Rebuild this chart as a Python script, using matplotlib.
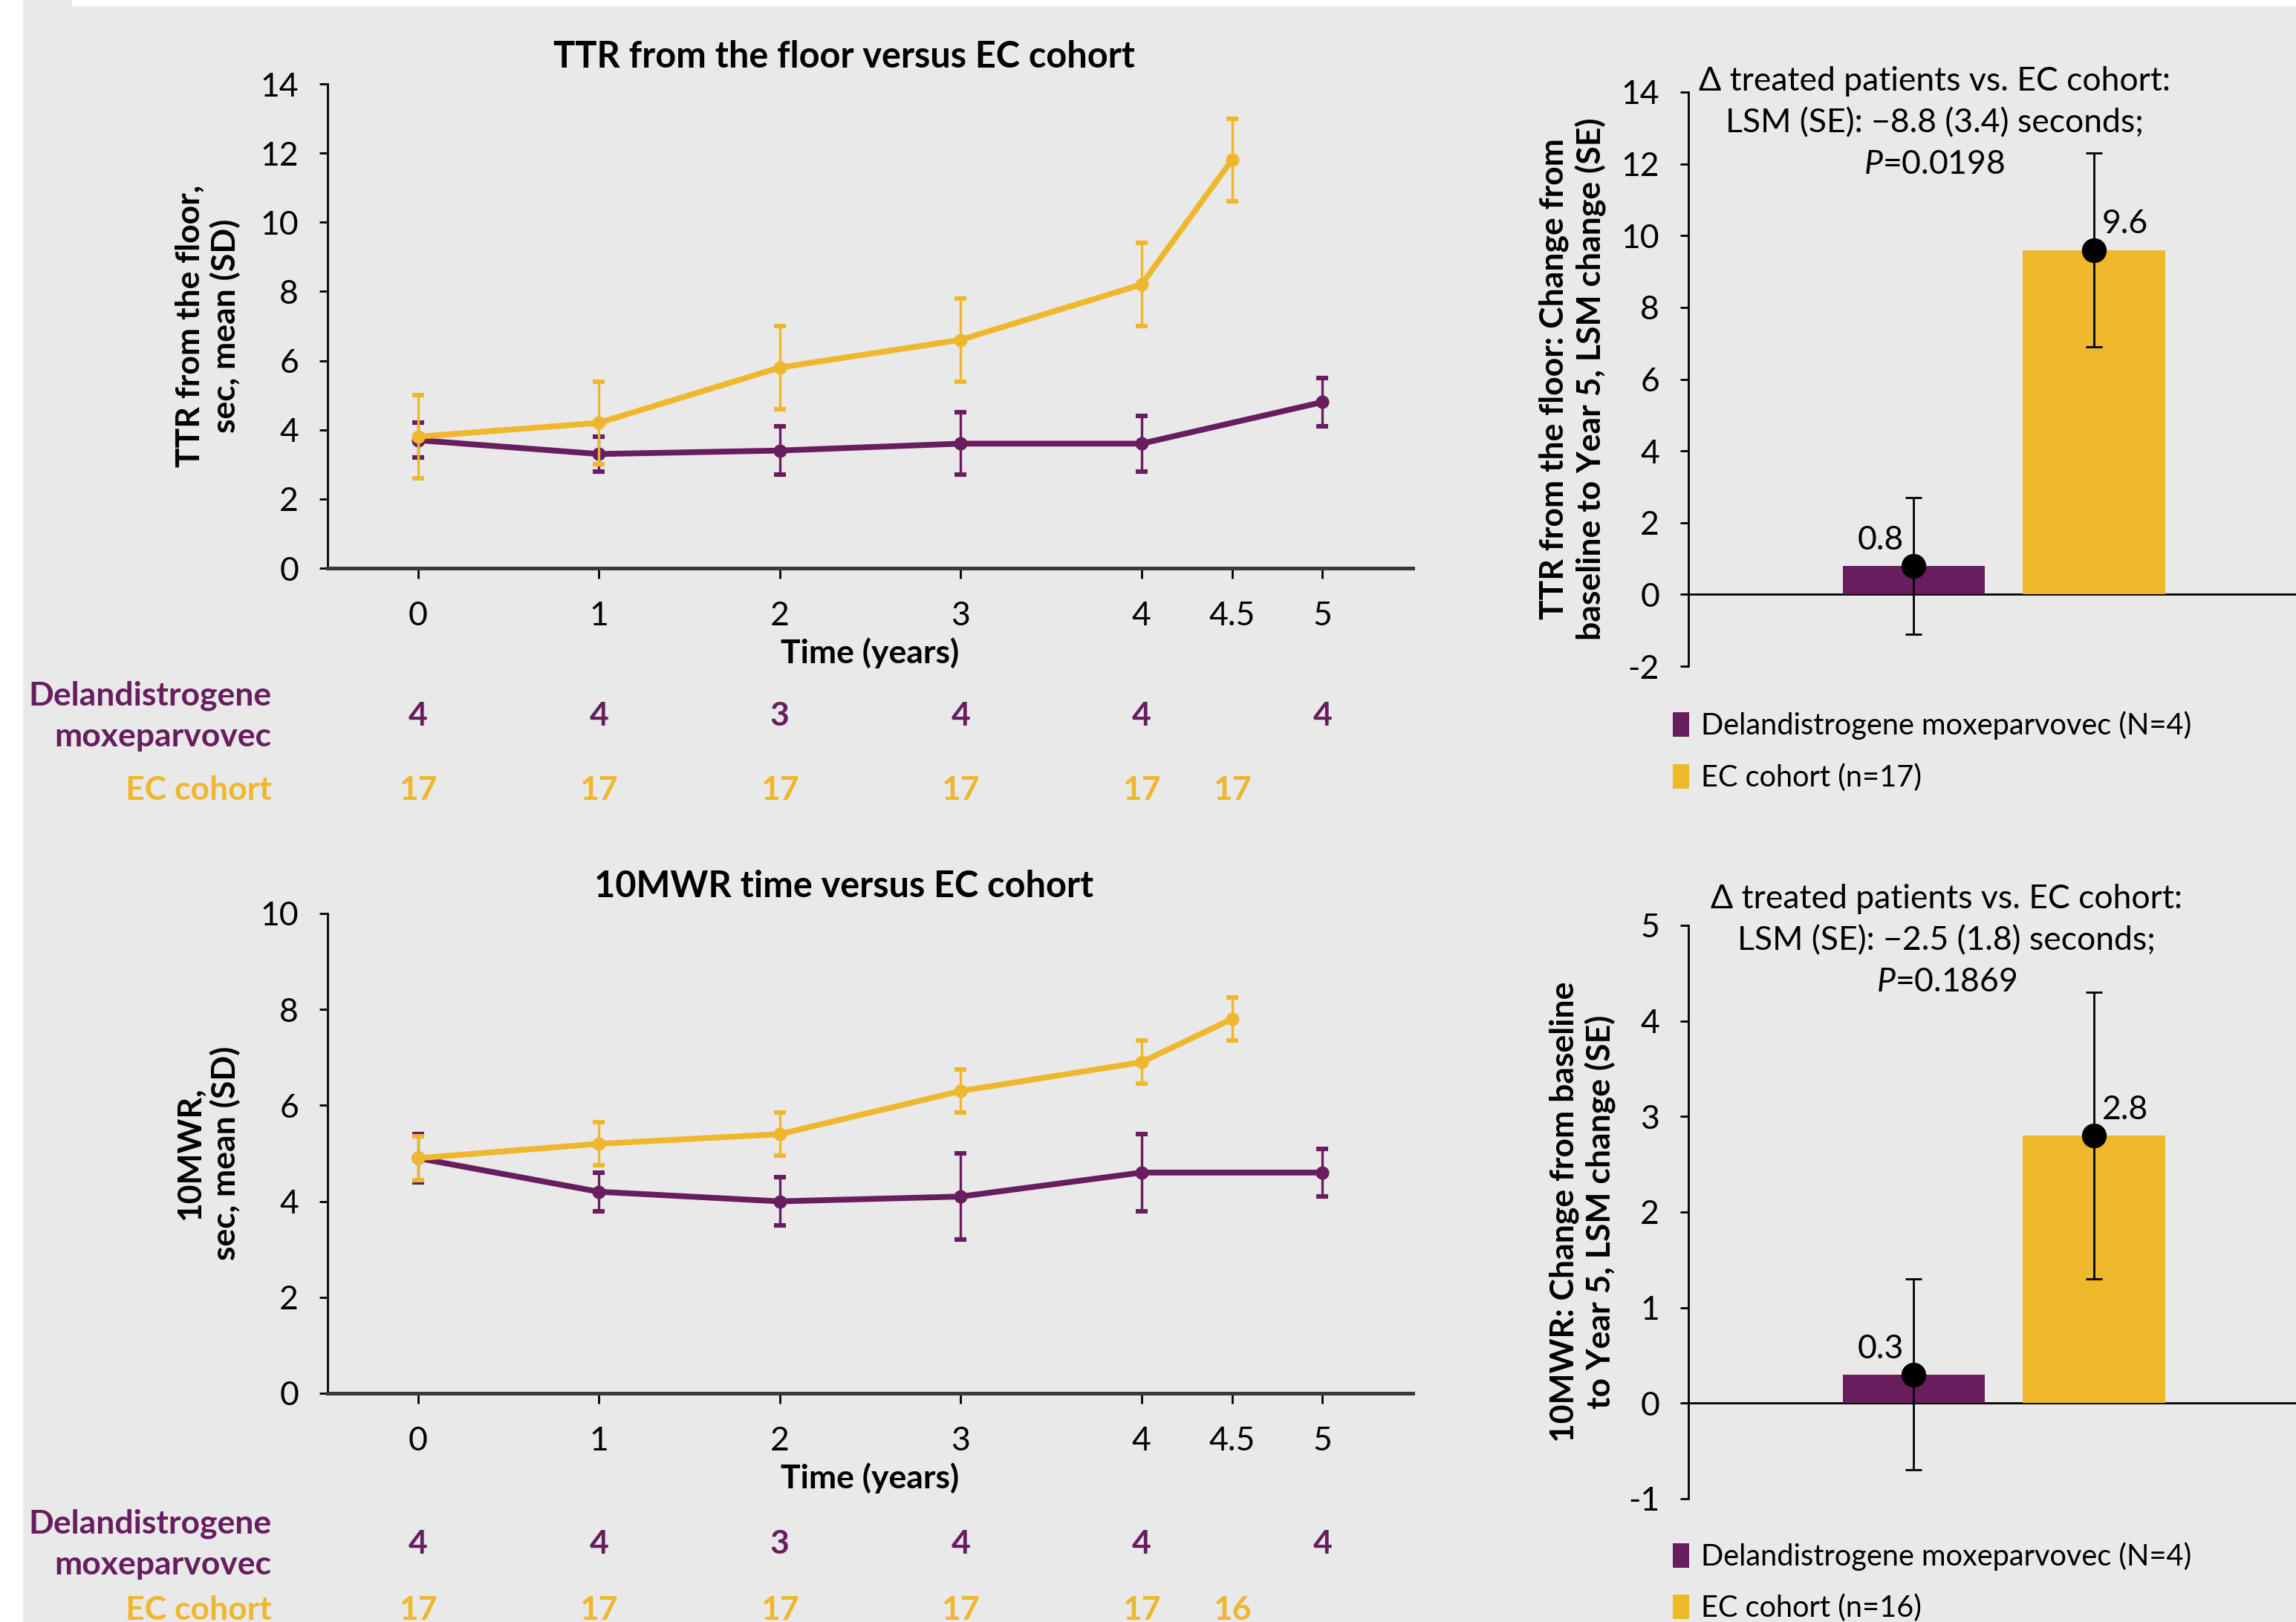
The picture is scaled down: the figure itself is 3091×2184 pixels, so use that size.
import matplotlib
matplotlib.use("Agg")
import matplotlib.pyplot as plt
from matplotlib.patches import Rectangle

plt.rcParams['font.family'] = ['Lato', 'DejaVu Sans']
plt.rcParams['mathtext.fontset'] = 'custom'
plt.rcParams['mathtext.rm'] = 'Lato'
plt.rcParams['mathtext.it'] = 'Lato:italic'
plt.rcParams['axes.unicode_minus'] = False

PURPLE = '#681D5F'
GOLD = '#EFB72C'
BG = '#E9E9E9'
FS = 16

# time points
time_ticks = [0, 1, 2, 3, 4, 4.5, 5]
time_labels = ['0', '1', '2', '3', '4', '4.5', '5']
tx_years = [0, 1, 2, 3, 4, 5]
ec_years = [0, 1, 2, 3, 4, 4.5]

# TTR (top)
ttr_tx = [3.7, 3.3, 3.4, 3.6, 3.6, 4.8]
ttr_tx_sd = [0.5, 0.5, 0.7, 0.9, 0.8, 0.7]
ttr_ec = [3.8, 4.2, 5.8, 6.6, 8.2, 11.8]
ttr_ec_sd = [1.2, 1.2, 1.2, 1.2, 1.2, 1.2]
ttr_n_tx = ['4', '4', '3', '4', '4', '4']
ttr_n_ec = ['17', '17', '17', '17', '17', '17']

# 10MWR (bottom)
mwr_tx = [4.9, 4.2, 4.0, 4.1, 4.6, 4.6]
mwr_tx_sd = [0.5, 0.4, 0.5, 0.9, 0.8, 0.5]
mwr_ec = [4.9, 5.2, 5.4, 6.3, 6.9, 7.8]
mwr_ec_sd = [0.45, 0.45, 0.45, 0.45, 0.45, 0.45]
mwr_n_tx = ['4', '4', '3', '4', '4', '4']
mwr_n_ec = ['17', '17', '17', '17', '17', '16']

# LSM change bars
groups = [0, 1]
ttr_lsm = [0.8, 9.6]
ttr_lsm_se = [1.9, 2.7]
mwr_lsm = [0.3, 2.8]
mwr_lsm_se = [1.0, 1.5]

W, H = 3091, 2184
fig = plt.figure(figsize=(W / 200, H / 200), dpi=200, facecolor=BG)
fig.patches.append(Rectangle((0, 0), 29 / W, 1, transform=fig.transFigure,
                             color='white', zorder=0))
fig.patches.append(Rectangle((98 / W, 1 - 7 / H), 1, 7 / H, transform=fig.transFigure,
                             color='white', zorder=0))


def fx(px):
    return px / W


def fy(py):
    return 1 - py / H


def line_panel(rect, title, ylab, ymax, tx, tx_sd, ec, ec_sd, n_tx, n_ec, ny_tx, ny_ec):
    ax = fig.add_axes(rect)
    ax.set_facecolor(BG)
    ax.errorbar(tx_years, tx, yerr=tx_sd, color=PURPLE, lw=2.8, marker='o', ms=5.5,
                elinewidth=1.2, capsize=3, capthick=2.2, zorder=3)
    ax.errorbar(ec_years, ec, yerr=ec_sd, color=GOLD, lw=2.8, marker='o', ms=5.5,
                elinewidth=1.2, capsize=3, capthick=2.2, zorder=4)
    ax.set_xlim(-0.5, 5.5)
    ax.set_ylim(0, ymax)
    ax.set_yticks(range(0, ymax + 1, 2))
    ax.set_xticks(time_ticks)
    ax.set_xticklabels(time_labels)
    for s in ['top', 'right']:
        ax.spines[s].set_visible(False)
    ax.spines['left'].set_linewidth(1.0)
    ax.spines['bottom'].set_linewidth(1.8)
    ax.spines['bottom'].set_color('#3A3A3A')
    ax.tick_params(axis='x', length=5, width=1, pad=11, labelsize=FS)
    ax.tick_params(axis='y', length=4, width=1, pad=10, labelsize=FS)
    ax.set_title(title, fontsize=FS + 1.5, fontweight='bold', pad=8, x=0.476)
    ax.set_xlabel('Time (years)', fontsize=FS, fontweight='bold', labelpad=3)
    ax.set_ylabel(ylab, fontsize=FS, fontweight='bold', multialignment='center')
    ax.yaxis.set_label_coords(-0.08, 0.5)
    trans = ax.get_xaxis_transform()
    for x, n in zip(tx_years, n_tx):
        ax.text(x, ny_tx, n, transform=trans, ha='center', va='center', color=PURPLE,
                fontsize=FS, fontweight='bold', clip_on=False)
    for x, n in zip(ec_years, n_ec):
        ax.text(x, ny_ec, n, transform=trans, ha='center', va='center', color=GOLD,
                fontsize=FS, fontweight='bold', clip_on=False)
    ax.text(-0.81, ny_tx, 'Delandistrogene\nmoxeparvovec', transform=trans, ha='right',
            va='center', color=PURPLE, fontsize=FS, fontweight='bold', linespacing=1.45,
            multialignment='right', clip_on=False)
    ax.text(-0.81, ny_ec, 'EC cohort', transform=trans, ha='right', va='center',
            color=GOLD, fontsize=FS, fontweight='bold', clip_on=False)
    return ax


def bar_panel(rect, ylim, yticks, vals, errs, ylab, ylab_x, note, note_xy, legend_labels, leg_y):
    ax = fig.add_axes(rect)
    ax.set_facecolor(BG)
    b1 = ax.bar(groups[0], vals[0], width=0.79, color=PURPLE, label=legend_labels[0], zorder=2)
    b2 = ax.bar(groups[1], vals[1], width=0.79, color=GOLD, label=legend_labels[1], zorder=2)
    ax.errorbar(groups, vals, yerr=errs, fmt='o', color='black', ms=11, elinewidth=1.0,
                capsize=4, capthick=1.0, zorder=3)
    for g, v, e in zip(groups, vals, [-16, 15]):
        ax.annotate(f'{v:.1f}', (g, v), xytext=(e, 12.5), textcoords='offset points',
                    ha='center', va='center', fontsize=FS)
    ax.axhline(0, color='black', lw=1.0, zorder=1)
    ax.set_xlim(-1.25, 2.12)
    ax.set_ylim(*ylim)
    ax.set_yticks(yticks)
    ax.set_xticks([])
    for s in ['top', 'right', 'bottom']:
        ax.spines[s].set_visible(False)
    ax.spines['left'].set_linewidth(1.0)
    ax.tick_params(axis='y', length=4, width=1, pad=10, labelsize=FS)
    ax.set_ylabel(ylab, fontsize=FS, fontweight='bold', multialignment='center', linespacing=1.25)
    ax.yaxis.set_label_coords(ylab_x, 0.5)
    ax.text(note_xy[0], note_xy[1], note, transform=ax.transAxes, ha='center', va='center',
            fontsize=FS, linespacing=1.45)
    ax.legend(handles=[b1, b2], loc='upper left', bbox_to_anchor=(-0.045, leg_y), frameon=False,
              fontsize=FS - 1.7, handlelength=0.55, handleheight=0.9, handletextpad=0.4,
              labelspacing=0.8, borderaxespad=0)
    return ax


line_panel([fx(441), fy(765), fx(1902) - fx(441), fy(113) - fy(765)],
           'TTR from the floor versus EC cohort', 'TTR from the floor,\nsec, mean (SD)', 14,
           ttr_tx, ttr_tx_sd, ttr_ec, ttr_ec_sd, ttr_n_tx, ttr_n_ec, -0.305, -0.459)

line_panel([fx(441), fy(1876), fx(1902) - fx(441), fy(1230) - fy(1876)],
           '10MWR time versus EC cohort', '10MWR,\nsec, mean (SD)', 10,
           mwr_tx, mwr_tx_sd, mwr_ec, mwr_ec_sd, mwr_n_tx, mwr_n_ec, -0.314, -0.452)

bar_panel([fx(2273), fy(897), 1 - fx(2273), fy(124) - fy(897)], (-2, 14), range(-2, 15, 2),
          ttr_lsm, ttr_lsm_se,
          'TTR from the floor: Change from\nbaseline to Year 5, LSM change (SE)', -0.135,
          'Δ treated patients vs. EC cohort:\nLSM (SE): −8.8 (3.4) seconds;\n$P$=0.0198',
          (0.405, 0.946),
          ['Delandistrogene moxeparvovec (N=4)', 'EC cohort (n=17)'], -0.058)

bar_panel([fx(2273), fy(2018), 1 - fx(2273), fy(1246) - fy(2018)], (-1, 5), range(-1, 6),
          mwr_lsm, mwr_lsm_se,
          '10MWR: Change from baseline\nto Year 5, LSM change (SE)', -0.118,
          'Δ treated patients vs. EC cohort:\nLSM (SE): −2.5 (1.8) seconds;\n$P$=0.1869',
          (0.425, 0.973),
          ['Delandistrogene moxeparvovec (N=4)', 'EC cohort (n=16)'], -0.055)

fig.savefig('out.png', dpi=200, facecolor=BG)
